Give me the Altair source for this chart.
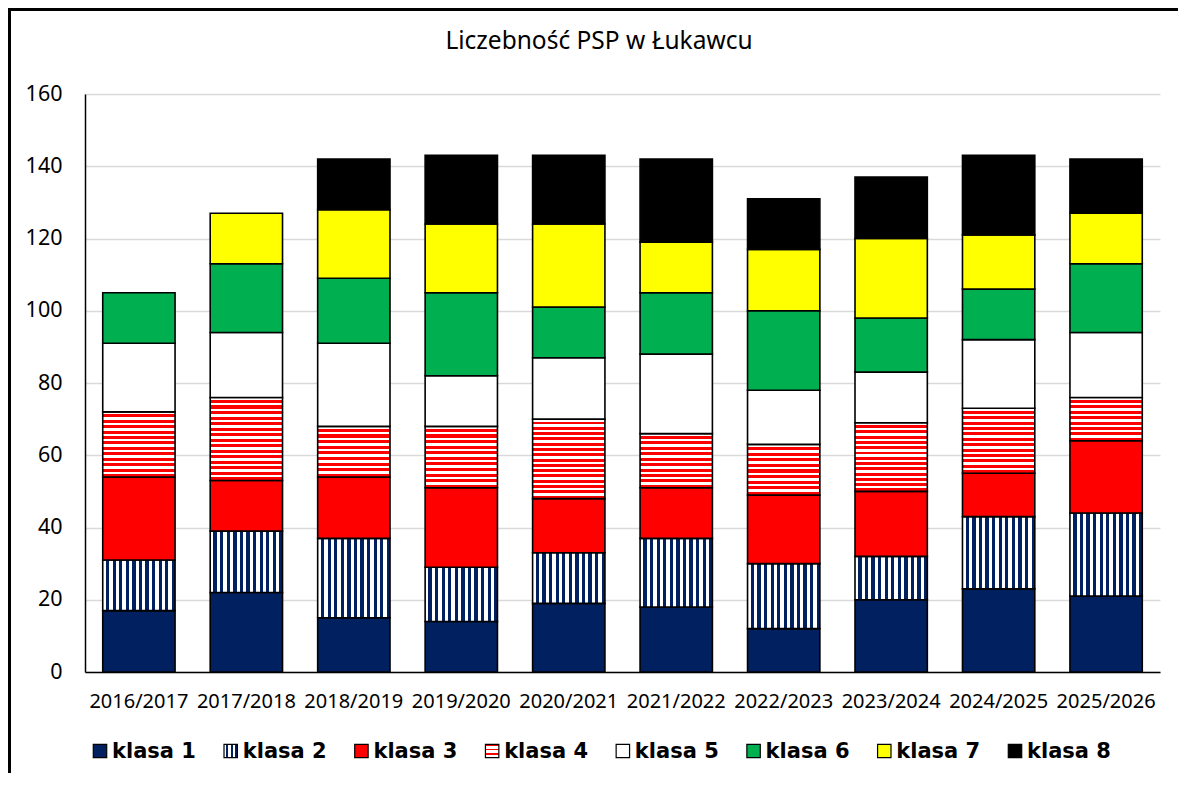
import altair as alt
import pandas as pd

# ---- data ----
years = ["2016/2017", "2017/2018", "2018/2019", "2019/2020", "2020/2021",
         "2021/2022", "2022/2023", "2023/2024", "2024/2025", "2025/2026"]
classes = ["klasa 1", "klasa 2", "klasa 3", "klasa 4",
           "klasa 5", "klasa 6", "klasa 7", "klasa 8"]
k1 = [17, 22, 15, 14, 19, 18, 12, 20, 23, 21]
k2 = [14, 17, 22, 15, 14, 19, 18, 12, 20, 23]
k3 = [23, 14, 17, 22, 15, 14, 19, 18, 12, 20]
k4 = [18, 23, 14, 17, 22, 15, 14, 19, 18, 12]
k5 = [19, 18, 23, 14, 17, 22, 15, 14, 19, 18]
k6 = [14, 19, 18, 23, 14, 17, 22, 15, 14, 19]
k7 = [0, 14, 19, 19, 23, 14, 17, 22, 15, 14]
k8 = [0, 0, 14, 19, 19, 23, 14, 17, 22, 15]
y_ticks = [0, 20, 40, 60, 80, 100, 120, 140, 160]
title_text = "Liczebność PSP w Łukawcu"

series = [k1, k2, k3, k4, k5, k6, k7, k8]
rows = []
for ci, (cls, vals) in enumerate(zip(classes, series)):
    for yr, v in zip(years, vals):
        if v > 0:
            rows.append({"year": yr, "cls": cls, "order": ci, "value": v})
df = pd.DataFrame(rows)
legend_df = pd.DataFrame({"cls": classes})
title_df = pd.DataFrame({"t": [title_text]})

# ---- styles ----
W, H, YMAX = 1075, 578, 160
NAVY, RED, GREEN, YELLOW = "#002060", "#FF0000", "#00B050", "#FFFF00"


def stripes(c1, c2, n, frac, vertical):
    stops = []
    for i in range(n):
        a = round(i / n, 5)
        m = round((i + frac) / n, 5)
        b = round((i + 1) / n, 5)
        stops += [{"offset": a, "color": c1}, {"offset": m, "color": c1},
                  {"offset": m, "color": c2}, {"offset": b, "color": c2}]
    g = {"gradient": "linear", "stops": stops}
    if vertical:
        g.update({"x1": 0, "x2": 1, "y1": 0, "y2": 0})
    else:
        g.update({"x1": 0, "x2": 0, "y1": 0, "y2": 1})
    return g


solid = {"klasa 1": NAVY, "klasa 3": RED, "klasa 5": "#FFFFFF",
         "klasa 6": GREEN, "klasa 7": YELLOW, "klasa 8": "#000000"}
k2_fill = stripes("#FFFFFF", NAVY, 11, 0.5, True)

x_enc = alt.X("year:N", sort=years,
              scale=alt.Scale(domain=years, paddingInner=0.327, paddingOuter=0.165),
              axis=alt.Axis(title=None, labelAngle=0, labelFont="Noto Sans",
                            labelFontSize=20, labelColor="#000000", labelPadding=19,
                            ticks=False, tickSize=0, domainColor="#000000",
                            domainWidth=1.5, grid=False))
y_enc = alt.Y("y0:Q", scale=alt.Scale(domain=[0, YMAX], nice=False),
              axis=alt.Axis(title=None, values=y_ticks, labelFont="Noto Sans",
                            labelFontSize=21.5, labelColor="#000000", labelPadding=23,
                            ticks=False, tickSize=0, domainColor="#000000",
                            domainWidth=1.5, grid=True, gridColor="#D9D9D9",
                            gridWidth=1.5))

base = alt.Chart(df).transform_stack(
    stack="value", groupby=["year"], as_=["y0", "y1"],
    sort=[alt.SortField("order", "ascending")])

bar_layers = []
for cls in classes:
    if cls == "klasa 4":
        for v in sorted(set(k4)):
            n = max(2, round(v * H / YMAX / 5.4))
            fill = stripes("#FFFFFF", RED, n, 0.45, False)
            bar_layers.append(
                base.transform_filter(f"datum.cls == '{cls}' && datum.value == {v}")
                .mark_bar(fill=fill, stroke="#000000", strokeWidth=1.6, opacity=1)
                .encode(x=x_enc, y=y_enc, y2="y1:Q"))
    else:
        fill = k2_fill if cls == "klasa 2" else solid[cls]
        bar_layers.append(
            base.transform_filter(f"datum.cls == '{cls}'")
            .mark_bar(fill=fill, stroke="#000000", strokeWidth=1.6, opacity=1)
            .encode(x=x_enc, y=y_enc, y2="y1:Q"))
bars = alt.layer(*bar_layers)

leg_x = alt.X("cls:N", sort=classes,
              scale=alt.Scale(type="point", domain=classes, range=[15, 930], padding=0),
              axis=None)
LEG_Y = 657
legend_layers = []
for cls in classes:
    if cls == "klasa 2":
        fill = stripes("#FFFFFF", NAVY, 3, 0.5, True)
    elif cls == "klasa 4":
        fill = stripes(RED, "#FFFFFF", 3, 0.34, False)
    else:
        fill = solid[cls]
    legend_layers.append(
        alt.Chart(legend_df).transform_filter(f"datum.cls == '{cls}'")
        .mark_square(size=180, fill=fill, stroke="#000000", strokeWidth=1.2,
                     opacity=1, filled=True)
        .encode(x=leg_x, y=alt.value(LEG_Y)))
legend_text = alt.Chart(legend_df).mark_text(
    align="left", baseline="middle", dx=12, dy=1, font="DejaVu Sans",
    fontSize=21, fontWeight="bold", color="#000000"
).encode(x=leg_x, y=alt.value(LEG_Y), text="cls:N")
legend = alt.layer(*legend_layers, legend_text)

# chart title (drawn as a text mark so the outer frame does not push it away)
title = alt.Chart(title_df).mark_text(
    align="center", baseline="alphabetic", font="Noto Sans", fontSize=24.5,
    color="#000000", clip=False
).encode(x=alt.value(514), y=alt.value(-45), text="t:N")

frame = alt.Chart(pd.DataFrame({"f": [0]})).mark_rect(
    filled=False, stroke="#000000", strokeWidth=3, clip=False
).encode(x=alt.value(-75.5), x2=alt.value(1300), y=alt.value(-84.5), y2=alt.value(900))

chart = alt.layer(bars, legend, title, frame).resolve_scale(x="independent").properties(
    width=W, height=H,
    autosize=alt.AutoSizeParams(type="none"),
    padding={"left": 77, "top": 86, "right": 18, "bottom": 101},
).configure_view(strokeWidth=0)

chart.save("out.html", embed_options={"renderer": "svg", "actions": False})
